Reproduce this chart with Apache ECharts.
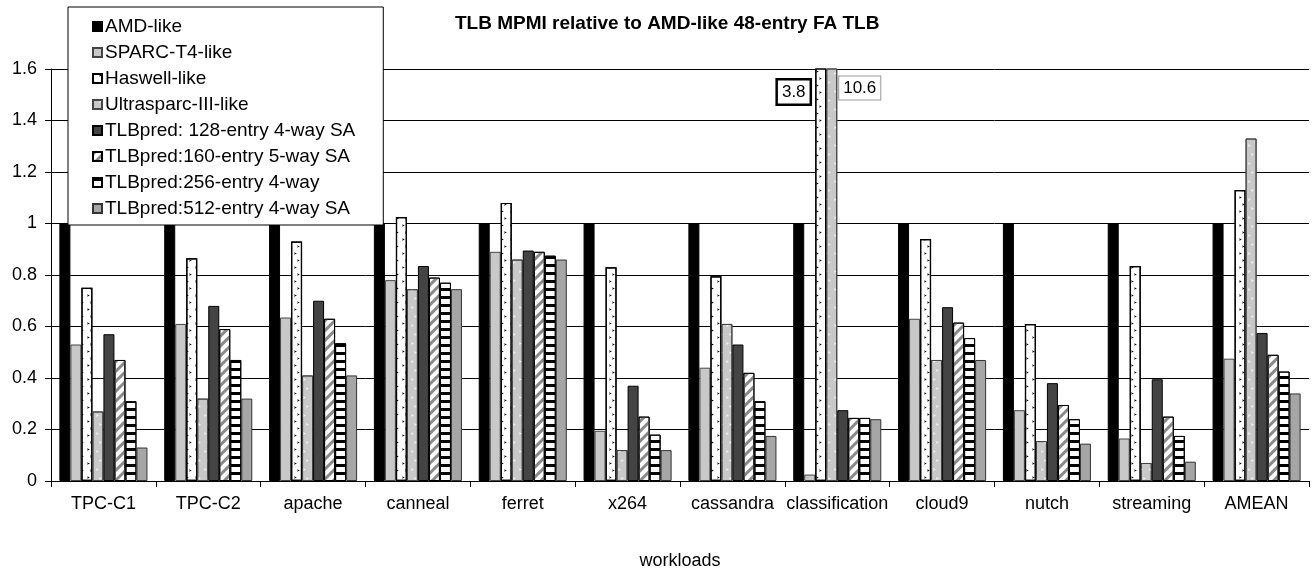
<!DOCTYPE html>
<html><head><meta charset="utf-8">
<script src="https://cdn.jsdelivr.net/npm/echarts@6/dist/echarts.min.js"></script>
<style>html,body{margin:0;padding:0;background:#fff}#c{width:1314px;height:573px}</style>
</head><body><div id="c"></div>
<script>
const categories = ['TPC-C1','TPC-C2','apache','canneal','ferret','x264','cassandra','classification','cloud9','nutch','streaming','AMEAN'];
const seriesNames = ['AMD-like','SPARC-T4-like','Haswell-like','Ultrasparc-III-like','TLBpred: 128-entry 4-way SA','TLBpred:160-entry 5-way SA','TLBpred:256-entry 4-way','TLBpred:512-entry 4-way SA'];
const amdLike    = [1,1,1,1,1,1,1,1,1,1,1,1];
const sparcT4    = [0.53,0.61,0.635,0.78,0.89,0.195,0.44,0.025,0.63,0.275,0.165,0.475];
const haswell    = [0.75,0.865,0.93,1.025,1.08,0.83,0.795,3.8,0.94,0.61,0.835,1.13];
const ultrasparc = [0.27,0.32,0.41,0.745,0.86,0.12,0.61,10.6,0.47,0.155,0.07,1.33];
const tlb128     = [0.57,0.68,0.70,0.835,0.895,0.37,0.53,0.275,0.675,0.38,0.395,0.575];
const tlb160     = [0.47,0.59,0.63,0.79,0.89,0.25,0.42,0.245,0.615,0.295,0.25,0.49];
const tlb256     = [0.31,0.47,0.535,0.77,0.875,0.18,0.31,0.245,0.555,0.24,0.175,0.425];
const tlb512     = [0.13,0.32,0.41,0.745,0.86,0.12,0.175,0.24,0.47,0.145,0.075,0.34];
const yTicks = {min:0, max:1.6, interval:0.2};

const FONT = '"Liberation Sans", Arial, sans-serif';
const allData = [amdLike,sparcT4,haswell,ultrasparc,tlb128,tlb160,tlb256,tlb512];

const styles = [
  {color:'#000', borderColor:'#000', borderWidth:1},
  {color:'#c8c8c8', borderColor:'#444', borderWidth:1},
  {color:'#fff', borderColor:'#000', borderWidth:1.2,
    decal:{symbol:'path://M0,0L10,5L0,10L2,5Z', symbolSize:0.9, color:'#000', dashArrayX:[[3,6],[0,6,3,0]], dashArrayY:[3,4], rotation:0}},
  {color:'#c8c8c8', borderColor:'#444', borderWidth:1,
    decal:{symbol:'path://M0,0L10,5L0,10L2,5Z', symbolSize:1, color:'#f2f2f2', dashArrayX:[[3,6],[0,6,3,0]], dashArrayY:[3,6], rotation:0}},
  {color:'#444', borderColor:'#000', borderWidth:1},
  {color:'#fff', borderColor:'#000', borderWidth:1,
    decal:{symbol:'rect', symbolSize:1, color:'#8a8a8a', dashArrayX:[1,0], dashArrayY:[2.4,3.6], rotation:-Math.PI/4}},
  {color:'#fff', borderColor:'#000', borderWidth:1,
    decal:{symbol:'rect', symbolSize:1, color:'#000', dashArrayX:[1,0], dashArrayY:[2.5,4.5], rotation:0}},
  {color:'#a6a6a6', borderColor:'#333', borderWidth:1}
];

const labelStyles = [
  null, null,
  {offset:[-27,23], borderColor:'#000', borderWidth:2.5},
  {offset:[28,19], borderColor:'#999', borderWidth:1}
];

const series = allData.map((d,i)=>{
  const s = {
    name: seriesNames[i], type:'bar', data:d,
    barGap:'0%', barCategoryGap:'16%',
    itemStyle: styles[i], clip:true, emphasis:{disabled:true}, animation:false
  };
  const over = [];
  d.forEach((v,j)=>{ if (v > yTicks.max) over.push({coord:[categories[j], yTicks.max], name:String(v), value:v}); });
  if (over.length && labelStyles[i]) {
    const ls = labelStyles[i];
    s.markPoint = {
      symbol:'rect', symbolSize:1, animation:false, silent:true,
      itemStyle:{color:'rgba(0,0,0,0)'},
      data: over,
      label:{show:true, formatter:'{b}', position:'inside', offset:ls.offset,
        fontFamily:FONT, fontSize:17, color:'#000', backgroundColor:'#fff',
        borderColor:ls.borderColor, borderWidth:ls.borderWidth, padding:[4,4,2,4]}
    };
  }
  return s;
});

const chart = echarts.init(document.getElementById('c'), null, {renderer:'canvas'});
chart.setOption({
  animation:false,
  backgroundColor:'#fff',
  title:{text:'TLB MPMI relative to AMD-like 48-entry FA TLB', left:450, top:9,
    textStyle:{fontFamily:FONT, fontSize:19, fontWeight:'bold', color:'#000'}},
  legend:{orient:'vertical', left:68, top:7, data:seriesNames,
    backgroundColor:'#fff', borderColor:'#000', borderWidth:1,
    padding:[10,28,7,24], itemGap:7, itemWidth:9, itemHeight:9,
    icon:'rect', textStyle:{fontFamily:FONT, fontSize:19, color:'#000', lineHeight:19, padding:[0,0,0,-2]}},
  grid:{left:51, right:5, top:69, bottom:92, containLabel:false, outerBoundsMode:'none'},
  xAxis:{type:'category', data:categories,
    axisLine:{lineStyle:{color:'#000', width:1}},
    axisTick:{show:true, length:6, interval:0, lineStyle:{color:'#000'}},
    axisLabel:{fontFamily:FONT, fontSize:18, color:'#000', margin:14, interval:0},
    name:'workloads', nameLocation:'middle', nameGap:71,
    nameTextStyle:{fontFamily:FONT, fontSize:18, color:'#000'}},
  yAxis:{type:'value', min:yTicks.min, max:yTicks.max, interval:yTicks.interval,
    axisLine:{show:true, lineStyle:{color:'#000', width:1}},
    axisTick:{show:true, length:6, lineStyle:{color:'#000'}},
    axisLabel:{fontFamily:FONT, fontSize:18, color:'#000', margin:14},
    splitLine:{lineStyle:{color:'#000', width:1}}},
  series: series
});
</script></body></html>
